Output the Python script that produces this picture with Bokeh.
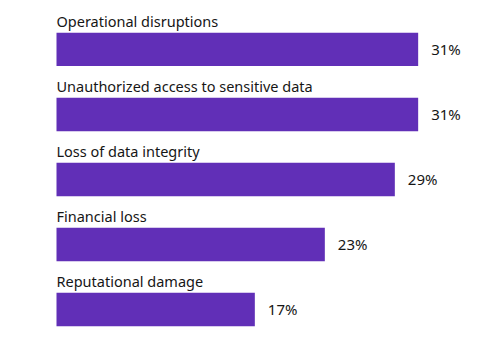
from bokeh.plotting import figure
from bokeh.models import ColumnDataSource, Range1d
from bokeh.core.properties import value
from bokeh.embed import file_html
from bokeh.resources import INLINE

categories = ["Operational disruptions", "Unauthorized access to sensitive data",
              "Loss of data integrity", "Financial loss", "Reputational damage"]
values = [31, 31, 29, 23, 17]
value_labels = ["31%", "31%", "29%", "23%", "17%"]

idx = list(range(len(categories)))
src = ColumnDataSource(dict(
    y=idx, v=values, cat=categories, lab=value_labels,
    ylab=[i - 0.44 for i in idx], zero=[0] * len(idx),
))

p = figure(width=504, height=347, output_backend="svg", toolbar_location=None,
           x_range=Range1d(-4.8, 38.4), y_range=Range1d(4.586, -0.752),
           min_border=0, outline_line_color=None)
p.axis.visible = False
p.grid.visible = False
p.background_fill_color = "white"
p.border_fill_color = "white"

BAR = "#612fb7"
p.hbar(y="y", right="v", left=0, height=0.515, source=src, fill_color=BAR, line_color=None)

p.text(x="zero", y="ylab", text="cat", source=src, text_font=value("Noto Sans"),
       text_font_size="14.5px", text_color="#161616", text_baseline="alphabetic",
       text_align="left")
p.text(x="v", y="y", text="lab", source=src, x_offset=13, text_font=value("Noto Sans"),
       text_font_size="15px", text_color="#161616", text_baseline="middle",
       text_align="left")

open("out.html", "w").write(file_html(p, INLINE))
